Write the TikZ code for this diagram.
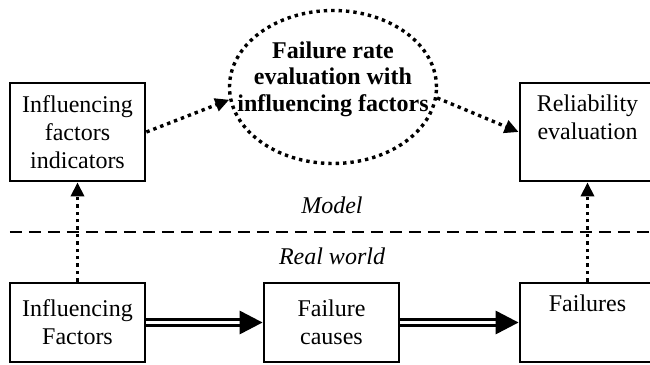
\documentclass[tikz,border=0pt]{standalone}
\usepackage{fontspec}
\setmainfont{Liberation Serif}
\usetikzlibrary{shapes.geometric,arrows.meta}

\begin{document}
\begin{tikzpicture}[x=0.5pt, y=-0.5pt,
    font=\fontsize{12}{14}\selectfont,
    box/.style={draw, line width=1.4pt, minimum width=67.5pt, inner sep=0pt, align=center},
    tallbox/.style={box, minimum height=49pt},
    lowbox/.style={box, minimum height=39.5pt},
    toptext/.style={anchor=north, inner sep=0pt, yshift=-6.5pt, align=center},
    dotline/.style={line width=1.7pt, dash pattern=on 1.7pt off 2pt},
    dotarrow/.style={dotline, -{Triangle[length=7pt,width=6.5pt]}},
    flow/.style={double, line width=1.6pt, double distance=1.1pt, -{Triangle[length=11.5pt,width=11.5pt]}},
    realm/.style={font=\fontsize{12}{14}\selectfont\itshape}]
      \useasboundingbox (0,0) rectangle (650,365);
      \clip (0,0) rectangle (650,365);

      \node[tallbox] (ind) at (77.5,132) {Influencing\\factors\\indicators};
      \node[tallbox, label={[toptext]north:{Reliability\\evaluation}}] (rel) at (587.5,132) {};
      \node[ellipse, draw, dotline, minimum width=103.5pt, minimum height=76.5pt, inner sep=0pt,
            label={[align=center, yshift=4pt, font=\fontsize{12}{13.3}\selectfont\bfseries]center:{Failure rate\\evaluation with\\influencing factors}}] (rate) at (333,87) {};

      \node[realm] (model) at (332,205) {Model};
      \draw[line width=1pt, dash pattern=on 6pt off 3.5pt] (10,232) -- (650,232);
      \node[realm] (real) at (332,256) {Real world};

      \node[lowbox] (inf) at (77.5,322.5) {Influencing\\Factors};
      \node[lowbox] (cause) at (331.5,322.5) {Failure\\causes};
      \node[lowbox, label={[toptext]north:{Failures}}] (fail) at (587.5,322.5) {};

      \draw[dotarrow] (ind.east) -- (rate.187);
      \draw[dotarrow] (rate.354) -- (rel.west);
      \draw[dotarrow] (inf.north) -- (ind.south);
      \draw[dotarrow] (fail.north) -- (rel.south);

      \draw[flow] (inf.east) -- (cause.west);
      \draw[flow] (cause.east) -- (fail.west);
    \end{tikzpicture}
\end{document}
